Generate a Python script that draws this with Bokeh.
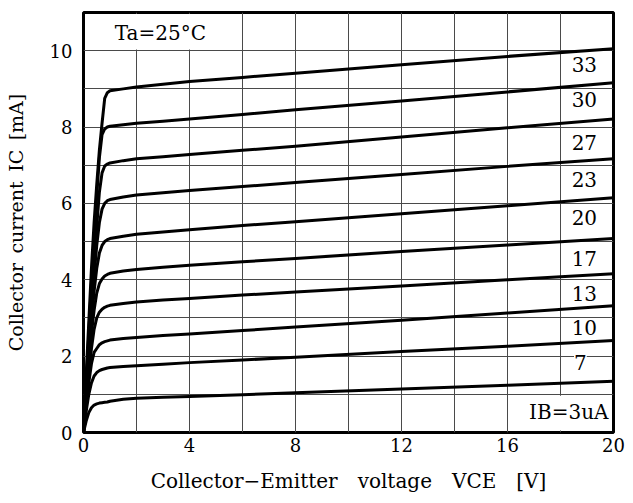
from bokeh.plotting import figure
from bokeh.models import FixedTicker, Label, BoxAnnotation, Range1d
from bokeh.embed import file_html
from bokeh.resources import INLINE

# Collector-emitter voltage samples [V]
vce = [0, 0.1, 0.2, 0.3, 0.4, 0.5, 0.6, 0.7, 0.8, 0.9, 1.0, 1.5, 2, 3, 4, 6, 8, 12, 16, 20]

# Collector current [mA] for each base current (uA)
ic_33 = [0, 1.5, 2.9, 4.3, 5.5, 6.5, 7.4, 8.1, 8.75, 8.9, 8.95, 9.0, 9.05, 9.12, 9.19, 9.3, 9.41, 9.63, 9.85, 10.05]
ic_30 = [0, 1.3, 2.6, 3.9, 5.1, 6.2, 7.2, 7.8, 7.95, 8.0, 8.02, 8.06, 8.1, 8.15, 8.21, 8.33, 8.45, 8.68, 8.92, 9.16]
ic_27 = [0, 1.2, 2.4, 3.5, 4.5, 5.4, 6.3, 6.8, 6.98, 7.03, 7.06, 7.12, 7.17, 7.22, 7.28, 7.39, 7.5, 7.74, 7.98, 8.21]
ic_23 = [0, 1.1, 2.2, 3.2, 4.1, 4.9, 5.5, 5.85, 6.0, 6.07, 6.1, 6.17, 6.22, 6.28, 6.34, 6.44, 6.55, 6.76, 6.97, 7.17]
ic_20 = [0, 1.0, 2.0, 2.9, 3.7, 4.3, 4.7, 4.9, 5.0, 5.05, 5.08, 5.14, 5.19, 5.25, 5.31, 5.42, 5.52, 5.73, 5.94, 6.15]
ic_17 = [0, 0.9, 1.8, 2.6, 3.2, 3.65, 3.9, 4.02, 4.1, 4.14, 4.17, 4.23, 4.27, 4.33, 4.38, 4.47, 4.56, 4.74, 4.91, 5.08]
ic_13 = [0, 0.8, 1.55, 2.2, 2.7, 3.0, 3.15, 3.23, 3.28, 3.31, 3.33, 3.38, 3.42, 3.47, 3.51, 3.6, 3.68, 3.84, 4.0, 4.16]
ic_10 = [0, 0.7, 1.3, 1.8, 2.1, 2.2, 2.3, 2.35, 2.38, 2.4, 2.42, 2.46, 2.49, 2.54, 2.58, 2.67, 2.76, 2.94, 3.13, 3.32]
ic_7 = [0, 0.55, 1.0, 1.3, 1.48, 1.57, 1.62, 1.65, 1.67, 1.69, 1.7, 1.73, 1.75, 1.79, 1.83, 1.9, 1.97, 2.12, 2.26, 2.41]
ic_3 = [0, 0.3, 0.52, 0.65, 0.72, 0.75, 0.77, 0.78, 0.79, 0.8, 0.82, 0.87, 0.9, 0.92, 0.94, 0.99, 1.04, 1.14, 1.24, 1.34]

curves = [ic_33, ic_30, ic_27, ic_23, ic_20, ic_17, ic_13, ic_10, ic_7, ic_3]

# Curve labels (base current)
curve_labels = ["33", "30", "27", "23", "20", "17", "13", "10", "7"]
label_x = [18.9, 18.9, 18.9, 18.9, 18.9, 18.9, 18.9, 18.9, 18.75]
label_y = [9.64, 8.72, 7.6, 6.62, 5.63, 4.55, 3.64, 2.75, 1.83]

x_ticks = [0, 4, 8, 12, 16, 20]
x_grid = [2, 4, 6, 8, 10, 12, 14, 16, 18]
y_ticks = [0, 2, 4, 6, 8, 10]
y_grid = [1, 2, 3, 4, 5, 6, 7, 8, 9, 10]

FONT = "DejaVu Serif"
EN = "\u2002"
EM = "\u2003"

p = figure(width=625, height=495, x_range=Range1d(0, 20), y_range=Range1d(0, 11),
           output_backend="svg", toolbar_location=None,
           min_border_left=83, min_border_right=12, min_border_top=12, min_border_bottom=63)

p.xaxis.ticker = FixedTicker(ticks=x_ticks)
p.yaxis.ticker = FixedTicker(ticks=y_ticks)
p.xgrid.ticker = FixedTicker(ticks=x_grid)
p.ygrid.ticker = FixedTicker(ticks=y_grid)
for g in (p.xgrid, p.ygrid):
    g.grid_line_color = "#4a4a4a"
    g.grid_line_width = 1

for ax in (p.xaxis, p.yaxis):
    ax.axis_line_color = None
    ax.major_tick_line_color = None
    ax.minor_tick_line_color = None
    ax.major_tick_out = 0
    ax.major_tick_in = 0
    ax.major_label_text_font = FONT
    ax.major_label_text_font_size = "18px"
    ax.major_label_text_color = "black"
    ax.axis_label_text_font = FONT
    ax.axis_label_text_font_style = "normal"
    ax.axis_label_text_color = "black"

p.xaxis.axis_label = EM.join(["Collector\u2212Emitter", "voltage", "VCE", "[V]"])
p.yaxis.axis_label = EN.join(["Collector", "current", "IC", "[mA]"])
p.xaxis.axis_label_text_font_size = "20px"
p.yaxis.axis_label_text_font_size = "19px"
p.xaxis.major_label_standoff = 5
p.yaxis.major_label_standoff = 11
p.xaxis.axis_label_standoff = 14
p.yaxis.axis_label_standoff = 20

p.outline_line_color = "black"
p.outline_line_width = 3
p.outline_line_alpha = 1

# white areas behind the corner captions
p.add_layout(BoxAnnotation(left=0.2, right=4.7, bottom=10.03, top=10.96,
                           fill_color="white", fill_alpha=1, line_color=None, level="underlay"))
p.add_layout(BoxAnnotation(left=16.5, right=19.9, bottom=0.05, top=0.96,
                           fill_color="white", fill_alpha=1, line_color=None, level="underlay"))

for ic in curves:
    p.line(vce, ic, line_width=3, color="black", line_join="round")

for t, x, y in zip(curve_labels, label_x, label_y):
    p.add_layout(Label(x=x, y=y, text=t, text_align="center", text_baseline="middle",
                       text_font=FONT, text_font_size="20px", text_color="black",
                       background_fill_color="white", background_fill_alpha=1))

p.add_layout(Label(x=19.81, y=0.55, text="IB=3uA", text_align="right", text_baseline="middle",
                   text_font=FONT, text_font_size="20px", text_color="black"))
p.add_layout(Label(x=2.9, y=10.46, text="Ta=25°C", text_align="center", text_baseline="middle",
                   text_font=FONT, text_font_size="20px", text_color="black"))

open("out.html", "w").write(file_html(p, INLINE))
